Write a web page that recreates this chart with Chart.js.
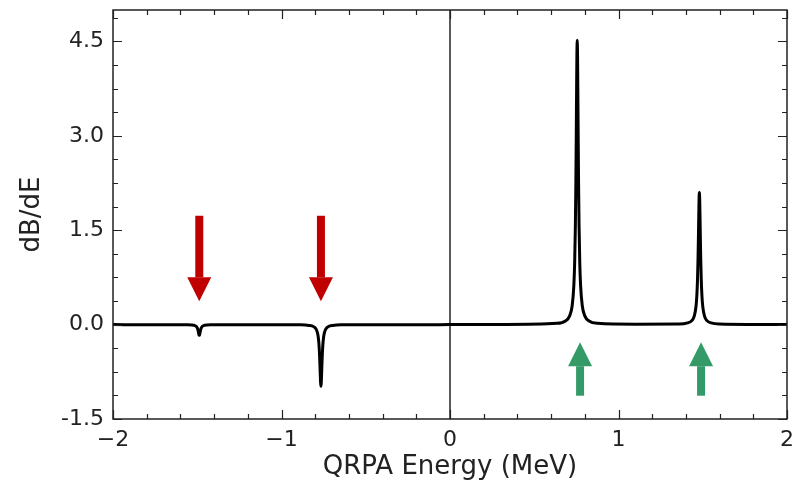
<!DOCTYPE html>
<html>
<head>
<meta charset="utf-8">
<script src="https://cdn.jsdelivr.net/npm/chart.js@4/dist/chart.umd.min.js"></script>
<style>
  html, body { margin: 0; padding: 0; background: #fff; }
  #wrap { width: 803px; height: 483px; }
</style>
</head>
<body>
<div id="wrap"><canvas id="c" width="803" height="483"></canvas></div>
<script>
// ------------------ Data ------------------
// flat stretches between the resonances
const baseE = [-2.000, -1.800, -1.200, -0.300, 0.000, 0.300, 1.100, 1.800, 2.000];
const baseY = [0.000, -0.001, -0.002, -0.001, 0.000, 0.002, 0.006, 0.002, 0.000];

// dip near -1.49 MeV
const dipAE = [-1.608, -1.558, -1.533, -1.518, -1.508, -1.503, -1.499, -1.496, -1.494, -1.492, -1.490, -1.488,
               -1.486, -1.484, -1.482, -1.480, -1.477, -1.473, -1.468, -1.458, -1.443, -1.418, -1.368];
const dipAY = [-0.001, -0.002, -0.005, -0.011, -0.023, -0.038, -0.059, -0.085, -0.109, -0.136, -0.160, -0.170,
               -0.160, -0.136, -0.109, -0.085, -0.059, -0.038, -0.023, -0.011, -0.005, -0.002, -0.001];

// dip near -0.77 MeV
const dipBE = [-0.886, -0.836, -0.811, -0.796, -0.786, -0.781, -0.777, -0.774, -0.772, -0.770, -0.768, -0.766,
               -0.764, -0.762, -0.760, -0.758, -0.755, -0.751, -0.746, -0.736, -0.721, -0.696, -0.646];
const dipBY = [-0.004, -0.013, -0.030, -0.065, -0.135, -0.217, -0.339, -0.490, -0.627, -0.784, -0.922, -0.980,
               -0.922, -0.784, -0.627, -0.490, -0.339, -0.217, -0.135, -0.065, -0.030, -0.013, -0.004];

// peak near 0.76 MeV
const peakAE = [0.635, 0.685, 0.710, 0.725, 0.735, 0.740, 0.744, 0.747, 0.749, 0.751, 0.753, 0.755,
                0.757, 0.759, 0.761, 0.763, 0.766, 0.770, 0.775, 0.785, 0.800, 0.825, 0.875];
const peakAY = [0.020, 0.058, 0.139, 0.300, 0.624, 0.999, 1.564, 2.260, 2.893, 3.616, 4.253, 4.520,
                4.253, 3.616, 2.893, 2.260, 1.564, 0.999, 0.624, 0.300, 0.139, 0.058, 0.020];

// peak near 1.48 MeV
const peakBE = [1.360, 1.410, 1.435, 1.450, 1.460, 1.465, 1.469, 1.472, 1.474, 1.476, 1.478, 1.480,
                1.482, 1.484, 1.486, 1.488, 1.491, 1.495, 1.500, 1.510, 1.525, 1.550, 1.600];
const peakBY = [0.009, 0.027, 0.064, 0.139, 0.290, 0.464, 0.727, 1.050, 1.344, 1.680, 1.976, 2.100,
                1.976, 1.680, 1.344, 1.050, 0.727, 0.464, 0.290, 0.139, 0.064, 0.027, 0.009];

// vertical marker at E = 0
const zeroLineX = [0, 0];
const zeroLineY = [-1.5, 5.0];

// arrows (data units)
const arrowX = [-1.488, -0.766, 0.772, 1.490];
const arrowTail = [1.73, 1.73, -1.13, -1.13];
const arrowTip = [0.37, 0.37, -0.28, -0.28];
const arrowColors = ["#c00000", "#c00000", "#349a68", "#349a68"];

// axes
const xRange = [-2, 2];
const yRange = [-1.5, 5.0];
const xMinorStep = 0.2;
const yMinorStep = 0.375;

// ------------------ Helpers ------------------
function toPoints(es, ys) {
  return es.map((e, i) => ({ x: e, y: ys[i] }));
}

const curve = [
  ...toPoints(baseE, baseY),
  ...toPoints(dipAE, dipAY),
  ...toPoints(dipBE, dipBY),
  ...toPoints(peakAE, peakAY),
  ...toPoints(peakBE, peakBY)
].sort((a, b) => a.x - b.x);

// ------------------ Plugins ------------------
const FONT = "'DejaVu Sans', sans-serif";

const arrowPlugin = {
  id: "arrows",
  afterDatasetsDraw(chart) {
    const { ctx, scales: { x, y } } = chart;
    const headLen = 24, headW = 24, shaftW = 8;
    ctx.save();
    arrowX.forEach((ax, i) => {
      const px = x.getPixelForValue(ax);
      const pTail = y.getPixelForValue(arrowTail[i]);
      const pTip = y.getPixelForValue(arrowTip[i]);
      const dir = pTip > pTail ? 1 : -1;
      const pBase = pTip - dir * headLen;
      ctx.fillStyle = arrowColors[i];
      ctx.fillRect(px - shaftW / 2, Math.min(pTail, pBase), shaftW, Math.abs(pBase - pTail));
      ctx.beginPath();
      ctx.moveTo(px - headW / 2, pBase);
      ctx.lineTo(px + headW / 2, pBase);
      ctx.lineTo(px, pTip);
      ctx.closePath();
      ctx.fill();
    });
    ctx.restore();
  }
};

const framePlugin = {
  id: "frame",
  afterDraw(chart) {
    const { ctx, chartArea: a, scales: { x, y } } = chart;
    const major = 9, minor = 5;
    ctx.save();
    ctx.strokeStyle = "#222";
    ctx.lineWidth = 1.2;
    ctx.beginPath();
    // x ticks (bottom + top)
    for (let v = xRange[0]; v <= xRange[1] + 1e-9; v += xMinorStep) {
      const isMajor = Math.abs(v - Math.round(v)) < 1e-6;
      const len = isMajor ? major : minor;
      const px = Math.round(x.getPixelForValue(v)) + 0.5;
      ctx.moveTo(px, a.bottom); ctx.lineTo(px, a.bottom - len);
      ctx.moveTo(px, a.top); ctx.lineTo(px, a.top + len);
    }
    // y ticks (left + right)
    for (let v = yRange[0]; v <= yRange[1] + 1e-9; v += yMinorStep) {
      const r = v / 1.5;
      const isMajor = Math.abs(r - Math.round(r)) < 1e-6;
      const len = isMajor ? major : minor;
      const py = Math.round(y.getPixelForValue(v)) + 0.5;
      ctx.moveTo(a.left, py); ctx.lineTo(a.left + len, py);
      ctx.moveTo(a.right, py); ctx.lineTo(a.right - len, py);
    }
    ctx.stroke();
    ctx.lineWidth = 1.5;
    ctx.strokeRect(a.left, a.top, a.right - a.left, a.bottom - a.top);
    ctx.restore();
  }
};

// ------------------ Chart ------------------
new Chart(document.getElementById("c").getContext("2d"), {
  type: "scatter",
  data: {
    datasets: [
      {
        data: toPoints(zeroLineX, zeroLineY),
        showLine: true,
        borderColor: "#000",
        borderWidth: 1.3,
        pointRadius: 0,
        clip: 0
      },
      {
        data: curve,
        showLine: true,
        borderColor: "#000",
        borderWidth: 3,
        pointRadius: 0,
        cubicInterpolationMode: "monotone",
        clip: 0
      }
    ]
  },
  options: {
    responsive: false,
    animation: false,
    layout: { padding: { left: 0, right: 16, top: 10, bottom: 0 } },
    plugins: { legend: { display: false }, tooltip: { enabled: false } },
    scales: {
      x: {
        type: "linear",
        min: xRange[0], max: xRange[1],
        grid: { display: false, drawTicks: false },
        border: { display: false },
        ticks: {
          stepSize: 1, autoSkip: false, maxRotation: 0, padding: 8,
          color: "#222", font: { family: FONT, size: 22 },
          callback: v => (v < 0 ? "\u2212" + Math.abs(v) : String(v))
        },
        title: {
          display: true, text: "QRPA Energy (MeV)", color: "#222",
          font: { family: FONT, size: 26 }, padding: { top: 0, bottom: 0 }
        },
        afterFit(s) { s.height = 64; s.paddingLeft = 0; s.paddingRight = 0; }
      },
      y: {
        type: "linear",
        min: yRange[0], max: yRange[1],
        grid: { display: false, drawTicks: false },
        border: { display: false },
        ticks: {
          stepSize: 1.5, includeBounds: false, autoSkip: false, padding: 9,
          color: "#222", font: { family: FONT, size: 22 },
          callback: v => v.toFixed(1)
        },
        title: {
          display: true, text: "dB/dE", color: "#222",
          font: { family: FONT, size: 26 }, padding: { top: 17, bottom: 0 }
        },
        afterFit(s) { s.width = 113; s.paddingTop = 0; s.paddingBottom = 0; }
      }
    }
  },
  plugins: [arrowPlugin, framePlugin]
});
</script>
</body>
</html>
